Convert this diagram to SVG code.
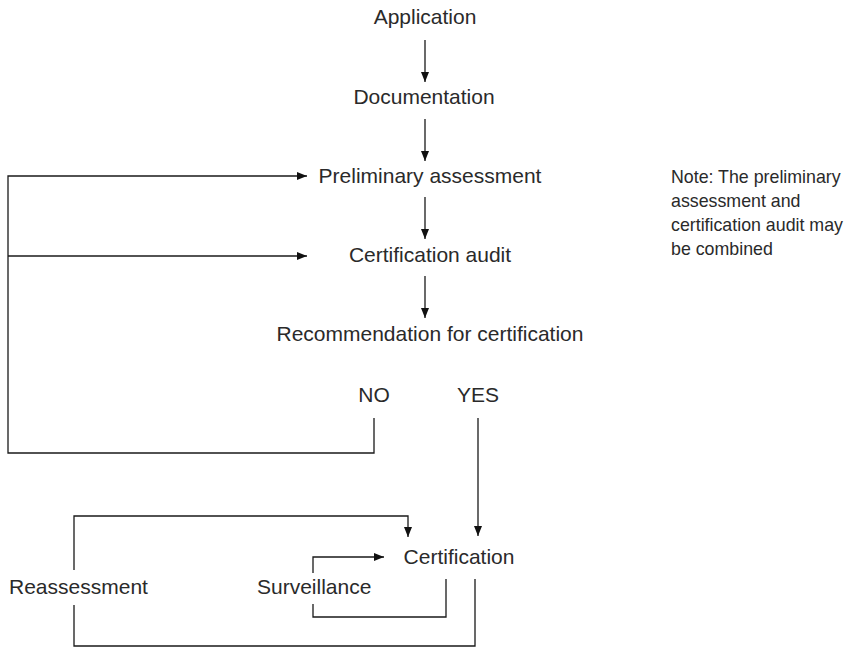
<svg xmlns="http://www.w3.org/2000/svg" width="863" height="649" viewBox="0 0 863 649">
<style>
.t{font-family:"Liberation Sans",Arial,sans-serif;font-size:21px;fill:#2a2a2a}
.n{font-family:"Liberation Sans",Arial,sans-serif;font-size:17.8px;fill:#2a2a2a}
.c{fill:none;stroke:#1a1a1a;stroke-width:1.3}
</style>
<defs>
<marker id="ah" viewBox="0 0 10 8" refX="10" refY="4" markerWidth="10" markerHeight="8" markerUnits="userSpaceOnUse" orient="auto">
<path d="M0,0 L10,4 L0,8 Z" fill="#111"/>
</marker>
</defs>
<rect width="863" height="649" fill="#fff"/>
<g id="application"><text class="t" x="425" y="24" text-anchor="middle">Application</text></g>
<g id="documentation"><text class="t" x="424" y="104" text-anchor="middle">Documentation</text></g>
<g id="preliminary"><text class="t" x="430" y="183" text-anchor="middle">Preliminary assessment</text></g>
<g id="audit"><text class="t" x="430" y="262" text-anchor="middle">Certification audit</text></g>
<g id="recommendation"><text class="t" x="430" y="341" text-anchor="middle">Recommendation for certification</text></g>
<g id="no"><text class="t" x="374" y="402" text-anchor="middle">NO</text></g>
<g id="yes"><text class="t" x="478" y="402" text-anchor="middle">YES</text></g>
<g id="certification"><text class="t" x="459" y="564" text-anchor="middle">Certification</text></g>
<g id="reassessment"><text class="t" x="9" y="594">Reassessment</text></g>
<g id="surveillance"><text class="t" x="257" y="594">Surveillance</text></g>
<g id="note"><text class="n"><tspan x="671" y="183">Note: The preliminary</tspan><tspan x="671" y="207">assessment and</tspan><tspan x="671" y="231">certification audit  may</tspan><tspan x="671" y="255">be combined</tspan></text></g>
<g id="connectors">
<path class="c" d="M425,40 V82" marker-end="url(#ah)"/>
<path class="c" d="M425,119 V161" marker-end="url(#ah)"/>
<path class="c" d="M425,197 V239" marker-end="url(#ah)"/>
<path class="c" d="M425,276 V318" marker-end="url(#ah)"/>
<path class="c" d="M374,418 V453 H8 V176 H307" marker-end="url(#ah)"/>
<path class="c" d="M8,256 H307" marker-end="url(#ah)"/>
<path class="c" d="M478,418 V536" marker-end="url(#ah)"/>
<path class="c" d="M74,570 V516 H408 V537" marker-end="url(#ah)"/>
<path class="c" d="M313,573 V557 H384" marker-end="url(#ah)"/>
<path class="c" d="M74,605 V646 H475 V579"/>
<path class="c" d="M313,604 V617 H446 V579"/>
</g>
</svg>
